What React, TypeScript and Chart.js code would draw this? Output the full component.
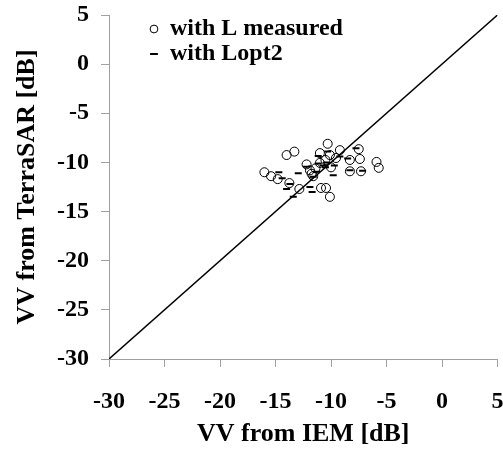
import React, { useEffect, useRef } from 'react';
import { Chart, registerables } from 'chart.js';

Chart.register(...registerables);

// Axis range (dB)
const axisMin = -30;
const axisMax = 5;
const axisStep = 5;

// Series: "with L measured" (open circles)
const measuredX = [-16.0, -15.4, -14.8, -14.0, -13.3, -13.75, -12.85, -12.2, -11.9, -11.75, -11.4, -11.0, -10.9, -10.45, -10.1, -10.3, -10.1, -10.0, -9.55, -9.2, -8.3, -8.3, -7.5, -7.4, -7.3, -5.9, -5.7, -11.0, -10.5, -11.6];
const measuredY = [-11.0, -11.4, -11.7, -9.25, -8.9, -12.1, -12.7, -10.2, -10.8, -11.15, -10.6, -9.05, -12.6, -12.6, -13.5, -8.1, -9.25, -10.5, -9.55, -8.75, -9.75, -10.9, -8.65, -9.65, -10.9, -9.95, -10.55, -10.05, -9.75, -11.4];

// Series: "with Lopt2" (short dashes)
const lopt2X = [-14.7, -12.95, -14.4, -13.7, -14.0, -13.4, -11.9, -11.7, -11.15, -10.3, -8.5, -8.3, -7.15, -7.75, -9.8, -10.7, -10.5, -10.4, -11.15, -12.2, -11.3, -9.7, -11.6, -9.2];
const lopt2Y = [-11.0, -11.1, -11.6, -12.2, -12.7, -13.5, -12.5, -13.0, -9.35, -8.9, -9.6, -10.8, -10.85, -8.55, -11.3, -10.3, -10.5, -10.0, -10.1, -10.45, -10.95, -10.3, -11.45, -9.4];

// 1:1 line
const lineX = [-30, 5];
const lineY = [-30, 5];

const xTitle = 'VV from IEM [dB]';
const yTitle = 'VV from TerraSAR [dB]';
const measuredLabel = 'with L measured';
const lopt2Label = 'with Lopt2';

const FONT = '"Liberation Serif", "Times New Roman", serif';
const AXIS_GRAY = '#a0a0a0';

const toPoints = (xs: number[], ys: number[]) => xs.map((x, i) => ({ x, y: ys[i] }));

const legendPlacer = {
  id: 'legendPlacer',
  afterLayout(chart: any) {
    const lg = chart.legend;
    if (lg) {
      lg.left = 149;
      lg.top = 16;
    }
  },
};

export default function App() {
  const canvasRef = useRef<HTMLCanvasElement | null>(null);

  useEffect(() => {
    if (!canvasRef.current) return;
    const chart = new Chart(canvasRef.current, {
      type: 'scatter',
      data: {
        datasets: [
          {
            label: measuredLabel,
            data: toPoints(measuredX, measuredY),
            pointStyle: 'circle',
            pointRadius: 4.5,
            borderColor: '#000',
            backgroundColor: 'rgba(0,0,0,0)',
            borderWidth: 1,
            pointHoverRadius: 4.5,
          },
          {
            label: lopt2Label,
            data: toPoints(lopt2X, lopt2Y),
            pointStyle: 'line',
            pointRadius: 3.5,
            borderColor: '#000',
            backgroundColor: '#000',
            borderWidth: 2,
            pointHoverRadius: 3.5,
          },
          {
            label: '1:1',
            data: toPoints(lineX, lineY),
            showLine: true,
            pointRadius: 0,
            borderColor: '#000',
            borderWidth: 1.5,
          },
        ],
      },
      options: {
        responsive: true,
        maintainAspectRatio: false,
        animation: false,
        layout: { padding: { left: 0, right: 2, top: 15, bottom: 0 } },
        plugins: {
          tooltip: { enabled: false },
          legend: {
            position: 'chartArea',
            align: 'start',
            labels: {
              usePointStyle: true,
              boxWidth: 8,
              boxHeight: 5.5,
              padding: 1,
              color: '#000',
              font: { family: FONT, size: 24, weight: 'bold' },
              filter: (item: any) => item.datasetIndex !== 2,
            },
          },
        },
        scales: {
          x: {
            type: 'linear',
            min: axisMin,
            max: axisMax,
            ticks: {
              stepSize: axisStep,
              color: '#000',
              padding: 20,
              font: { family: FONT, size: 24, weight: 'bold' },
            },
            grid: {
              drawOnChartArea: false,
              drawTicks: true,
              tickLength: 8,
              color: AXIS_GRAY,
            },
            border: { display: true, color: AXIS_GRAY, width: 1 },
            title: {
              display: true,
              text: xTitle,
              color: '#000',
              font: { family: FONT, size: 26, weight: 'bold' },
              padding: { top: 0, bottom: 6 },
            },
            afterFit: (s: any) => {
              s.height = 97;
              s.paddingLeft = 0;
              s.paddingRight = 0;
            },
          },
          y: {
            type: 'linear',
            min: axisMin,
            max: axisMax,
            ticks: {
              stepSize: axisStep,
              color: '#000',
              padding: 12,
              font: { family: FONT, size: 24, weight: 'bold' },
            },
            grid: {
              drawOnChartArea: false,
              drawTicks: true,
              tickLength: 8,
              color: AXIS_GRAY,
            },
            border: { display: true, color: AXIS_GRAY, width: 1 },
            title: {
              display: true,
              text: yTitle,
              color: '#000',
              font: { family: FONT, size: 26, weight: 'bold' },
              padding: { top: 12, bottom: 0 },
            },
            afterFit: (s: any) => {
              s.width = 109;
              s.paddingTop = 0;
              s.paddingBottom = 0;
            },
          },
        },
      },
      plugins: [legendPlacer],
    } as any);
    return () => chart.destroy();
  }, []);

  return (
    <div style={{ position: 'absolute', left: 0, top: 0, width: 503, height: 456 }}>
      <canvas ref={canvasRef} />
    </div>
  );
}
